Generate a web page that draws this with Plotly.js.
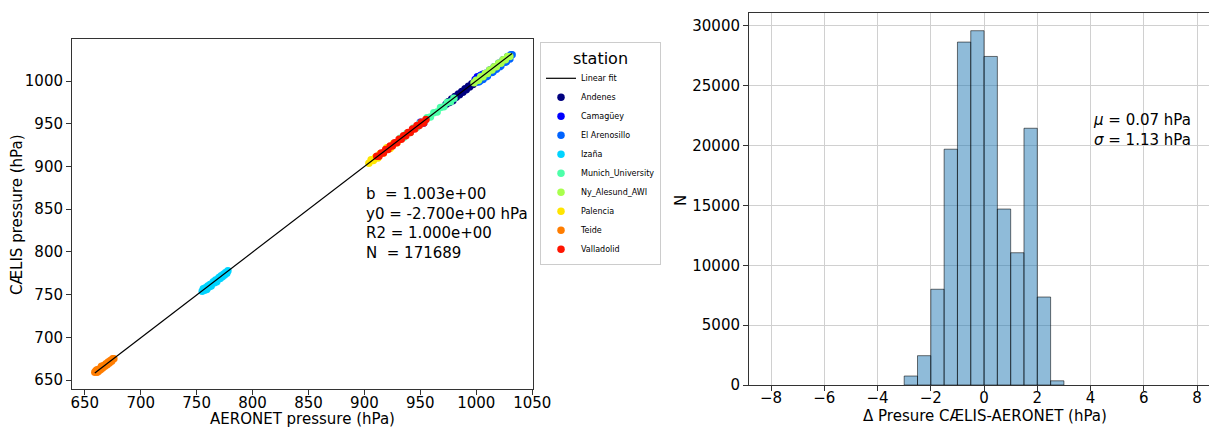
<!DOCTYPE html>
<html>
<head>
<meta charset="utf-8">
<script src="https://cdn.plot.ly/plotly-3.0.1.min.js"></script>
<style>html,body{margin:0;padding:0;background:#fff;}#chart{width:1209px;height:429px;}</style>
</head>
<body>
<div id="chart"></div>
<script>
// ---------- Scatter data (AERONET vs CAELIS pressure, hPa) ----------
const stationNames = ["Andenes","Camagüey","El Arenosillo","Izaña","Munich_University","Ny_Alesund_AWI","Palencia","Teide","Valladolid"];

const andenesX = [973,975,976,978,979,981,982,984,985,987,988,990,991,993,994,996,997,999,1000];
const andenesY = [973,976,975,979,977,982,981,985,984,988,987,991,990,994,993,997,996,1000,999];

const camagueyX = [950,953,999,1001,1003,1004,1006,1008];
const camagueyY = [952,951,1002,1005,1004,1007,1008,1009];

const arenosilloX = [1000,1002,1004,1006,1008,1010,1012,1014,1016,1018,1020,1022,1024,1026,1028,1030,1031,1032,1003,1009,1015,1021,1027];
const arenosilloY = [1001,999,1006,1002,1009,1006,1013,1010,1017,1014,1021,1018,1025,1022,1029,1026,1031,1031,1000,1005,1011,1017,1023];

const izanaX = [755,756,757,758,759,760,761,762,763,764,765,766,767,768,769,770,771,772,773,774,775,776,777,778];
const izanaY = [754,757,755,758,756,760,759,762,760,763,765,764,767,765,768,770,769,772,771,774,773,776,775,778];

const munichX = [932,935,938,941,944,947,950,953,956,959,962,965,968,971,974,977,980];
const munichY = [933,934,939,940,945,946,951,952,957,958,963,964,969,970,975,976,980];

const nyAlesundX = [998,1000,1002,1004,1006,1008,1010,1012,1014,1016,1018,1020,1022,1024,1026,1028,1030];
const nyAlesundY = [998,1001,1001,1005,1005,1009,1009,1013,1013,1017,1017,1021,1021,1025,1025,1029,1029];

const palenciaX = [904,906,908,910,912,914,917,920,923,926,929];
const palenciaY = [904,908,907,911,910,915,916,922,921,927,928];

const teideX = [659,660,661,661,662,663,664,665,665,666,667,668,669,670,671,672,673,674,675,676];
const teideY = [659,661,659,662,660,663,662,664,666,664,667,666,669,668,671,670,673,672,675,675];

const valladolidX = [911,913,915,917,919,921,923,925,927,929,931,933,935,937,939,941,943,945,947,949,951,953,955];
const valladolidY = [912,912,916,916,920,920,924,924,928,928,932,932,936,936,940,940,944,944,948,948,952,951,955];

// Linear fit statistics
const fitSlope = 1.003;
const fitIntercept = -2.700;
const fitR2 = 1.000;
const fitN = 171689;
const fitXRange = [659, 1032];

// ---------- Histogram data (Δ pressure CAELIS-AERONET, hPa) ----------
const binCenters = [-2.75,-2.25,-1.75,-1.25,-0.75,-0.25,0.25,0.75,1.25,1.75,2.25,2.75];
const binCounts  = [750,2450,8000,19700,28650,29600,27450,14700,11050,21450,7350,350];
const histMean = 0.07;
const histStd = 1.13;

// ---------- Styles ----------
const stationColors = ["#00007f","#0000ff","#0063ff","#00d4ff","#4dffa9","#a9ff4d","#ffe500","#ff7d00","#ff1400"];
const stationXs = [andenesX,camagueyX,arenosilloX,izanaX,munichX,nyAlesundX,palenciaX,teideX,valladolidX];
const stationYs = [andenesY,camagueyY,arenosilloY,izanaY,munichY,nyAlesundY,palenciaY,teideY,valladolidY];

function fmtExp(v) {
  // python-style "%.3e" : exponent with at least two digits
  const s = v.toExponential(3);
  return s.replace(/e([+-])(\d)$/, "e$10$2");
}

const FONT = "DejaVu Sans, Liberation Sans, sans-serif";
const traces = [];
stationNames.forEach((name, i) => {
  traces.push({
    type: "scatter", mode: "markers", name: name,
    x: stationXs[i], y: stationYs[i],
    xaxis: "x", yaxis: "y",
    marker: {color: stationColors[i], size: 7.5, line: {width: 0}},
    legendrank: 10 + i
  });
});
const fitY = fitXRange.map(v => fitSlope * v + fitIntercept);
traces.push({
  type: "scatter", mode: "lines", name: "Linear fit",
  x: fitXRange, y: fitY, xaxis: "x", yaxis: "y",
  line: {color: "black", width: 1.2}, legendrank: 1
});
traces.push({
  type: "bar", x: binCenters, y: binCounts, width: 0.5,
  xaxis: "x2", yaxis: "y2", showlegend: false,
  marker: {color: "rgba(31,119,180,0.5)", line: {color: "rgba(0,0,0,0.55)", width: 1}}
});

const W = 1209, H = 429;
const axCommon = {
  showline: true, linecolor: "#333", linewidth: 1,
  ticks: "outside", ticklen: 5, tickcolor: "#333", tickwidth: 1,
  tickfont: {family: FONT, size: 15, color: "#000"},
  zeroline: false
};
const titleFont = {family: FONT, size: 15, color: "#000"};

const layout = {
  width: W, height: H,
  margin: {l: 0, r: 0, t: 0, b: 0},
  paper_bgcolor: "#fff", plot_bgcolor: "#fff",
  font: {family: FONT, color: "#000"},
  showlegend: true,
  bargap: 0,
  xaxis: Object.assign({}, axCommon, {
    domain: [72/W, 533/W], range: [638.6, 1050.7], anchor: "y",
    tick0: 650, dtick: 50, mirror: true, showgrid: false, ticklabelstandoff: -5
  }),
  yaxis: Object.assign({}, axCommon, {
    domain: [1 - 389/H, 1 - 39.3/H], range: [639.5, 1049], anchor: "x",
    tick0: 650, dtick: 50, mirror: true, showgrid: false
  }),
  xaxis2: Object.assign({}, axCommon, {
    domain: [749/W, 1], range: [-8.83, 8.45], anchor: "y2",
    tick0: 0, dtick: 2, mirror: true, showgrid: true, gridcolor: "#d0d0d0", gridwidth: 1,
    ticklabelstandoff: -6
  }),
  yaxis2: Object.assign({}, axCommon, {
    domain: [1 - 385/H, 1 - 13/H], range: [0, 31080], anchor: "x2",
    tick0: 0, dtick: 5000, tickformat: "d", showgrid: true, gridcolor: "#d0d0d0", gridwidth: 1
  }),
  legend: {
    x: 540/W, y: 1 - 42/H, xanchor: "left", yanchor: "top",
    bgcolor: "#fff", bordercolor: "#cccccc", borderwidth: 1,
    font: {family: FONT, size: 8, color: "#000"},
    title: {text: "station", font: {family: FONT, size: 16}, side: "top center"},
    traceorder: "normal", itemsizing: "trace", itemwidth: 30
  },
  annotations: [
    {
      xref: "x", yref: "y", x: 900, y: 881, xanchor: "left", yanchor: "top",
      align: "left", showarrow: false,
      font: {family: FONT, size: 15, color: "#000"},
      text: "b  = " + fmtExp(fitSlope) + "<br>y0 = " + fmtExp(fitIntercept) + " hPa<br>R2 = " + fmtExp(fitR2) + "<br>N  = " + fitN
    },
    {
      xref: "x2", yref: "y2", x: 4, y: 23100, xanchor: "left", yanchor: "top",
      align: "left", showarrow: false,
      font: {family: FONT, size: 15, color: "#000"},
      text: "<i>μ</i> = " + histMean.toFixed(2) + " hPa<br><i>σ</i> = " + histStd.toFixed(2) + " hPa"
    },
    // axis titles
    {xref: "paper", yref: "paper", x: 302/W, y: 1 - 419/H, xanchor: "center", yanchor: "middle",
     showarrow: false, font: titleFont, text: "AERONET pressure (hPa)"},
    {xref: "paper", yref: "paper", x: 17/W, y: 1 - 215/H, xanchor: "center", yanchor: "middle",
     showarrow: false, font: titleFont, textangle: -90, text: "CÆLIS pressure (hPa)"},
    {xref: "paper", yref: "paper", x: 985/W, y: 1 - 416/H, xanchor: "center", yanchor: "middle",
     showarrow: false, font: titleFont, text: "Δ Presure CÆLIS-AERONET (hPa)"},
    {xref: "paper", yref: "paper", x: 681/W, y: 1 - 201/H, xanchor: "center", yanchor: "middle",
     showarrow: false, font: titleFont, textangle: -90, text: "N"}
  ]
};

Plotly.newPlot("chart", traces, layout, {staticPlot: true, displayModeBar: false});
</script>
</body>
</html>
